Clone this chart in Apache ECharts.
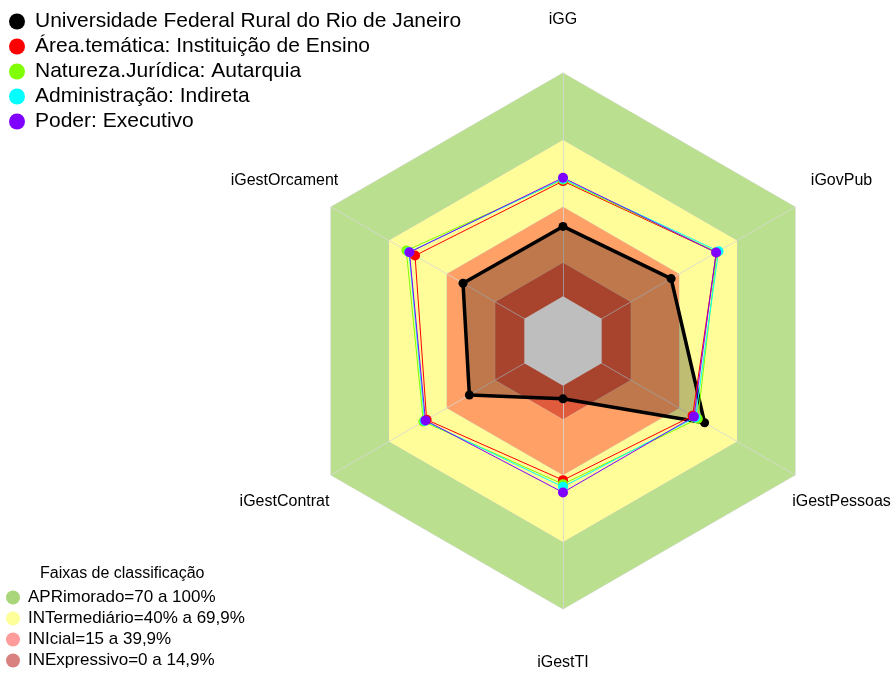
<!DOCTYPE html>
<html>
<head>
<meta charset="utf-8">
<script src="https://cdn.jsdelivr.net/npm/echarts@6/dist/echarts.min.js"></script>
<style>
  html, body { margin: 0; padding: 0; background: #fff; }
  #chart { width: 895px; height: 674px; }
</style>
</head>
<body>
<div id="chart"></div>
<script>
// indicators, counter-clockwise from the top
const indicators = ['iGG', 'iGestOrcament', 'iGestContrat', 'iGestTI', 'iGestPessoas', 'iGovPub']

const seriesNames = [
  'Universidade Federal Rural do Rio de Janeiro',
  'Área.temática: Instituição de Ensino',
  'Natureza.Jurídica: Autarquia',
  'Administração: Indireta',
  'Poder: Executivo'
]
const seriesColors = ['#000000', '#FF0000', '#80FF00', '#00FFFF', '#8000FF']

const ufrrj = [31.3, 31.7, 28.4, 5.9, 53.2, 35.9]
const areaTematica = [51.6, 56.5, 50.5, 42.3, 47.0, 59.3]
const naturezaJuridica = [52.2, 61.0, 52.2, 44.1, 49.7, 59.6]
const administracao = [52.6, 59.6, 51.6, 45.3, 48.5, 60.4]
const poder = [53.1, 59.4, 51.1, 47.8, 47.7, 59.2]
const seriesValues = [ufrrj, areaTematica, naturezaJuridica, administracao, poder]

// classification bands (upper limit of each band)
const bandNames = ['APRimorado=70 a 100%', 'INTermediário=40% a 69,9%', 'INIcial=15 a 39,9%', 'INExpressivo=0 a 14,9%']
const bandLimits = [100, 70, 40, 15]
const bandFill = ['#BAE08F', '#FFFD99', '#FFA066', '#E05A3C']
const bandLegend = ['#A9D67A', '#FFFF99', '#FF9B9B', '#D98080']

const cx = 563, cy = 341, R = 268

const chart = echarts.init(document.getElementById('chart'))

const series = []
bandNames.forEach((name, i) => {
  series.push({
    type: 'radar',
    name: name,
    z: 1,
    symbol: 'none',
    silent: true,
    lineStyle: { color: 'rgba(200,200,200,0.7)', width: 1 },
    areaStyle: { color: bandFill[i], opacity: 1 },
    itemStyle: { color: bandLegend[i] },
    data: [{ value: indicators.map(() => bandLimits[i]) }]
  })
})

// black series first (its fill darkens the bands), then the grey hole
series.push({
  type: 'radar',
  name: seriesNames[0],
  z: 2,
  symbol: 'circle',
  symbolSize: 9,
  itemStyle: { color: '#000' },
  lineStyle: { color: '#000', width: 3.5 },
  areaStyle: { color: 'rgba(0,0,0,0.25)', opacity: 1 },
  data: [{ value: ufrrj }]
})
series.push({
  type: 'radar',
  name: 'centro',
  z: 2,
  symbol: 'none',
  silent: true,
  lineStyle: { width: 0 },
  areaStyle: { color: '#BEBEBE', opacity: 1 },
  data: [{ value: indicators.map(() => 0) }]
})
for (let i = 1; i < seriesNames.length; i++) {
  series.push({
    type: 'radar',
    name: seriesNames[i],
    z: 3,
    symbol: 'circle',
    symbolSize: 10,
    itemStyle: { color: seriesColors[i] },
    lineStyle: { color: seriesColors[i], width: 1 },
    data: [{ value: seriesValues[i] }]
  })
}

// indicator labels centred on the spokes, outside the polygon
const labels = indicators.map((name, i) => {
  const a = Math.PI / 2 + i * Math.PI * 2 / indicators.length
  return {
    type: 'text',
    x: cx + 1.2 * R * Math.cos(a),
    y: cy - 1.2 * R * Math.sin(a),
    style: {
      text: name,
      fontSize: 16,
      fontFamily: 'Liberation Sans',
      fill: '#000',
      align: 'center',
      verticalAlign: 'middle'
    }
  }
})

chart.setOption({
  backgroundColor: '#fff',
  animation: false,
  textStyle: { fontFamily: 'Liberation Sans' },
  title: {
    text: 'Faixas de classificação',
    left: 35,
    top: 561,
    textStyle: { fontSize: 16, fontWeight: 'normal', color: '#000' }
  },
  legend: [
    {
      orient: 'vertical',
      left: 4,
      top: 6,
      icon: 'circle',
      itemWidth: 26,
      itemHeight: 16,
      itemGap: 4,
      textStyle: { fontSize: 21, color: '#000' },
      data: seriesNames.map((n, i) => ({ name: n, itemStyle: { color: seriesColors[i] } })),
      selectedMode: false
    },
    {
      orient: 'vertical',
      left: 6,
      top: 589,
      height: 85,
      padding: 0,
      icon: 'circle',
      itemWidth: 20,
      itemHeight: 14,
      itemGap: 4,
      textStyle: { fontSize: 17, color: '#000' },
      data: bandNames.map((n, i) => ({ name: n, itemStyle: { color: bandLegend[i] } })),
      selectedMode: false
    }
  ],
  radar: {
    center: [cx, cy],
    radius: R,
    startAngle: 90,
    shape: 'polygon',
    z: 1.5,
    indicator: indicators.map(n => ({ name: n, min: -20, max: 100 })),
    axisName: { show: false },
    splitNumber: 1,
    splitLine: { show: false },
    splitArea: { show: false },
    axisLine: { lineStyle: { color: 'rgba(215,215,215,0.8)', width: 1 } }
  },
  graphic: labels,
  series: series
})
</script>
</body>
</html>
